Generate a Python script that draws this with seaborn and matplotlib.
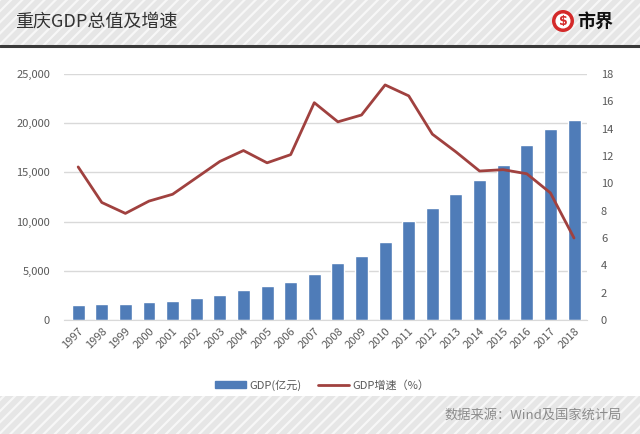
import numpy as np
import pandas as pd
import matplotlib.pyplot as plt
import matplotlib.patches as mpatches
from matplotlib.lines import Line2D
from matplotlib.ticker import FuncFormatter
import seaborn as sns

#%% data
years = [str(y) for y in range(1997, 2019)]
gdp = [1510, 1602, 1663, 1791, 1976, 2232, 2556, 3034, 3468, 3907, 4676,
       5794, 6530, 7926, 10011, 11410, 12783, 14263, 15717, 17741, 19425, 20363]
growth = [11.2, 8.6, 7.8, 8.7, 9.2, 10.4, 11.6, 12.4, 11.5, 12.1, 15.9,
          14.5, 15.0, 17.2, 16.4, 13.6, 12.3, 10.9, 11.0, 10.7, 9.3, 6.0]

df = pd.DataFrame({'year': years, 'gdp': gdp, 'growth': growth})
df['pos'] = np.arange(len(df))

sns.set_style('white')
plt.rcParams['font.family'] = ['Noto Sans CJK SC', 'DejaVu Sans']
plt.rcParams['hatch.linewidth'] = 1.6

bar_color = '#4F7CB8'
line_color = '#A0413F'
tick_color = '#595959'

W, H = 640, 434
fig = plt.figure(figsize=(6.4, 4.34), dpi=100)

#%% header / footer bands
hatch_kw = dict(transform=fig.transFigure, facecolor='#E6E6E6', edgecolor='#F7F7F7',
                hatch='///', linewidth=0, zorder=-10)
fig.patches.append(mpatches.Rectangle((0, 1 - 45 / H), 1, 45 / H, **hatch_kw))
fig.patches.append(mpatches.Rectangle((0, 0), 1, 38 / H, **hatch_kw))
fig.add_artist(Line2D([0, 1], [1 - 46 / H] * 2, color='#3A3A3A', lw=2.2))

fig.text(15 / W, 1 - 22 / H, '重庆GDP总值及增速', fontsize=13, color='#333333',
         va='center', ha='left')
# logo
fig.patches.append(mpatches.Ellipse((563 / W, 1 - 21 / H), 22 / W, 22 / H, transform=fig.transFigure,
                                    facecolor='#D42A2A', edgecolor='none'))
fig.patches.append(mpatches.Ellipse((563 / W, 1 - 21 / H), 15 / W, 15 / H, transform=fig.transFigure,
                                    facecolor='white', edgecolor='none'))
fig.text(563 / W, 1 - 21 / H, '$', fontsize=9, color='#D42A2A', fontweight='bold',
         ha='center', va='center', family='DejaVu Sans')
fig.text(577 / W, 1 - 21 / H, '市界', fontsize=13, color='#111111', fontweight='bold',
         ha='left', va='center')
fig.text(622 / W, 1 - 415 / H, '数据来源：Wind及国家统计局', fontsize=9.5, color='#8C8C8C',
         ha='right', va='center')

#%% chart
ax = fig.add_axes([64 / W, 1 - 320 / H, 523 / W, 246 / H])
sns.barplot(data=df, x='pos', y='gdp', color=bar_color, width=0.55, ax=ax,
            saturation=1, native_scale=True, zorder=2)
ax.set_ylim(0, 25000)
ax.set_yticks(np.arange(0, 25001, 5000))
ax.yaxis.set_major_formatter(FuncFormatter(lambda v, p: f'{int(v):,}'))
ax.grid(axis='y', color='#D9D9D9', lw=1, zorder=0)
ax.set_axisbelow(True)
ax.set_xticks(df['pos'])
ax.set_xticklabels(years, rotation=45, ha='right', rotation_mode='anchor')
ax.set_xlim(-0.6, len(years) - 0.45)
ax.set_xlabel('')
ax.set_ylabel('')
for s in ['top', 'right', 'left']:
    ax.spines[s].set_visible(False)
ax.spines['bottom'].set_color('#D9D9D9')
ax.tick_params(axis='both', length=0, labelsize=8, colors=tick_color)
ax.tick_params(axis='y', pad=10)
ax.tick_params(axis='x', pad=4)

ax2 = ax.twinx()
sns.lineplot(data=df, x='pos', y='growth', color=line_color, lw=2, ax=ax2)
ax2.set_ylim(0, 18)
ax2.set_yticks(np.arange(0, 19, 2))
ax2.set_ylabel('')
ax2.set_xlim(ax.get_xlim())
for s in ['top', 'right', 'left', 'bottom']:
    ax2.spines[s].set_visible(False)
ax2.tick_params(axis='y', length=0, labelsize=8, colors=tick_color, pad=10)

handles = [mpatches.Patch(color=bar_color), Line2D([0], [0], color=line_color, lw=2)]
fig.legend(handles, ['GDP(亿元)', 'GDP增速（%）'], loc='center',
           bbox_to_anchor=(322 / W, 1 - 385 / H), ncol=2, frameon=False,
           fontsize=8, labelcolor=tick_color, handlelength=2.8, handleheight=0.5,
           columnspacing=1.5, handletextpad=0.3)

fig.savefig('out.png', dpi=100, facecolor='white')
